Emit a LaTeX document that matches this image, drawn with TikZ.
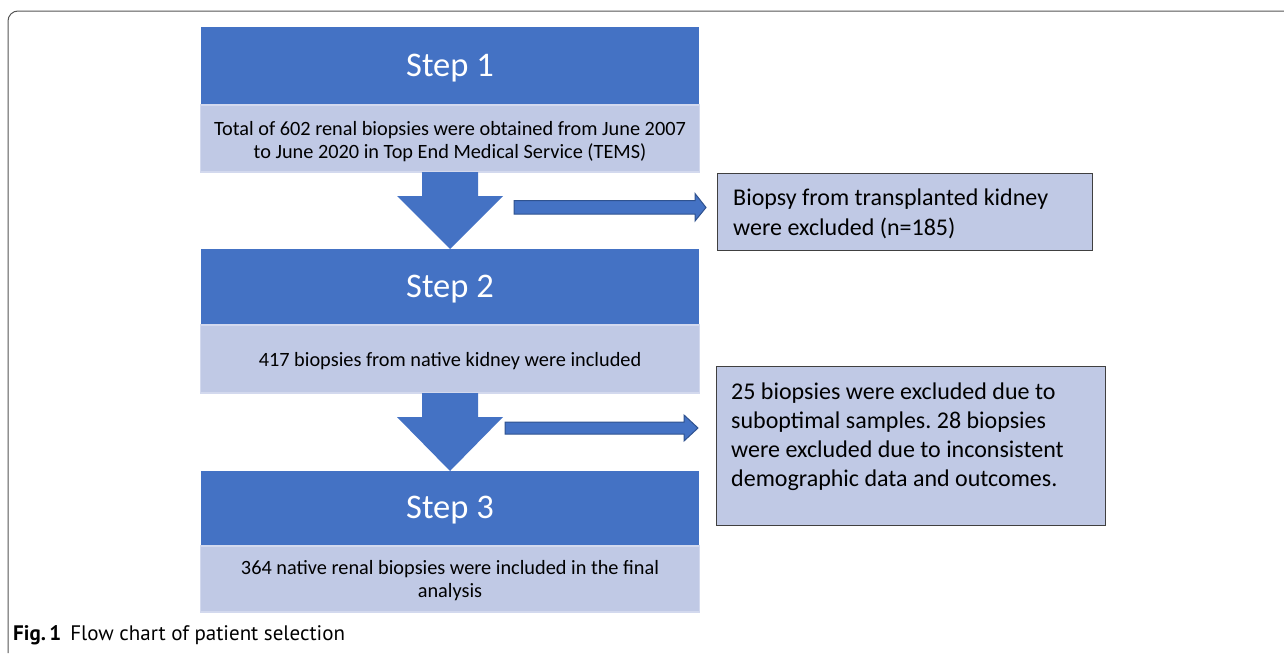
\documentclass[tikz,border=0pt]{standalone}
\usepackage{fontspec}
\setmainfont{Carlito}
\newfontfamily\capfont{PT Sans}
\usetikzlibrary{calc}
\definecolor{darkblue}{HTML}{4472C4}
\definecolor{lightblue}{HTML}{C0C9E5}
\definecolor{lightedge}{HTML}{D3D9EE}
\definecolor{arrowedge}{HTML}{2F528F}
\definecolor{frameline}{HTML}{555555}
\tikzset{
  stepbox/.style={fill=darkblue, draw=none, inner sep=0pt, outer sep=0pt, minimum width=498pt},
  steptext/.style={inner sep=0pt, text=white, font=\fontsize{34.5}{40}\selectfont},
  infobox/.style={fill=lightblue, draw=lightedge, line width=1.5pt, inner sep=0pt, outer sep=0pt, minimum width=499pt},
  infotext/.style={inner sep=0pt, align=center, font=\fontsize{20.3}{23}\selectfont},
  exclbox/.style={fill=lightblue, draw=black!75, line width=0.8pt, inner sep=0pt, outer sep=0pt},
  excltext/.style={inner sep=0pt, align=left, font=\fontsize{24}{29.5}\selectfont},
  downarrow/.style={fill=darkblue, draw=none},
  sidearrow/.style={fill=darkblue, draw=arrowedge, line width=1pt, line join=miter},
}
\frenchspacing
\begin{document}
\begin{tikzpicture}[x=1pt,y=-1pt]
\useasboundingbox (0,0) rectangle (1284,653);
% frame
\draw[frameline, line width=1pt, rounded corners=10pt] (8,653) -- (8,11) -- (1284,11);

% step 1
\node[stepbox, minimum height=78pt] (s1) at (450,66) {};
\node[steptext] (s1t) at ([yshift=-2pt]s1.center) {Step 1};
\node[infobox, minimum height=67pt] (l1) at (450,138.5) {};
\node[infotext] (l1t) at ([yshift=-3pt]l1.center) {Total of 602 renal biopsies were obtained from June 2007\\to June 2020 in Top End Medical Service (TEMS)};
% step 2
\node[stepbox, minimum height=76pt] (s2) at (450,287) {};
\node[steptext] (s2t) at ([yshift=-2pt]s2.center) {Step 2};
\node[infobox, minimum height=68pt] (l2) at (450,359) {};
\node[infotext] (l2t) at ([yshift=-2pt]l2.center) {417 biopsies from native kidney were included};
% step 3
\node[stepbox, minimum height=75pt] (s3) at (450,508.5) {};
\node[steptext] (s3t) at ([yshift=-2pt]s3.center) {Step 3};
\node[infobox, minimum height=66pt] (l3) at (450,579) {};
\node[infotext] (l3t) at ([yshift=-2pt]l3.center) {364 native renal biopsies were included in the final\\analysis};

% down arrows
\fill[downarrow] (422,172) -- (478,172) -- (478,196) -- (503,196) -- (450,249) -- (397,196) -- (422,196) -- cycle;
\fill[downarrow] (422,393) -- (478,393) -- (478,417) -- (503,417) -- (450,471) -- (397,417) -- (422,417) -- cycle;

% exclusion boxes
\node[exclbox, minimum width=375pt, minimum height=77pt] (e1) at (904.5,211.5) {};
\node[exclbox, minimum width=389pt, minimum height=159pt] (e2) at (910.5,446) {};
\node[excltext, anchor=west, font=\fontsize{24}{30}\selectfont] (e1t) at ([xshift=16pt,yshift=-2pt]e1.west) {Biopsy from transplanted kidney\\were excluded (n=185)};
\node[excltext, anchor=north west, font=\fontsize{24}{29}\selectfont] (e2t) at ([xshift=15pt,yshift=-16pt]e2.north west) {25 biopsies were excluded due to\\suboptimal samples. 28 biopsies\\were excluded due to inconsistent\\demographic data and outcomes.};

% side arrows
\draw[sidearrow] (514,200.5) -- (695,200.5) -- (695,193.5) -- (706,207.5) -- (695,221) -- (695,214) -- (514,214) -- cycle;
\draw[sidearrow] (505,422) -- (684,422) -- (684,415) -- (698,428) -- (684,441) -- (684,434) -- (505,434) -- cycle;

% caption
\node[anchor=west, inner sep=0pt, font=\capfont\fontsize{21}{24}\selectfont] (cap) at (13,635) {\textbf{Fig.\,1}\hspace{9pt}Flow chart of patient selection};
\end{tikzpicture}
\end{document}
